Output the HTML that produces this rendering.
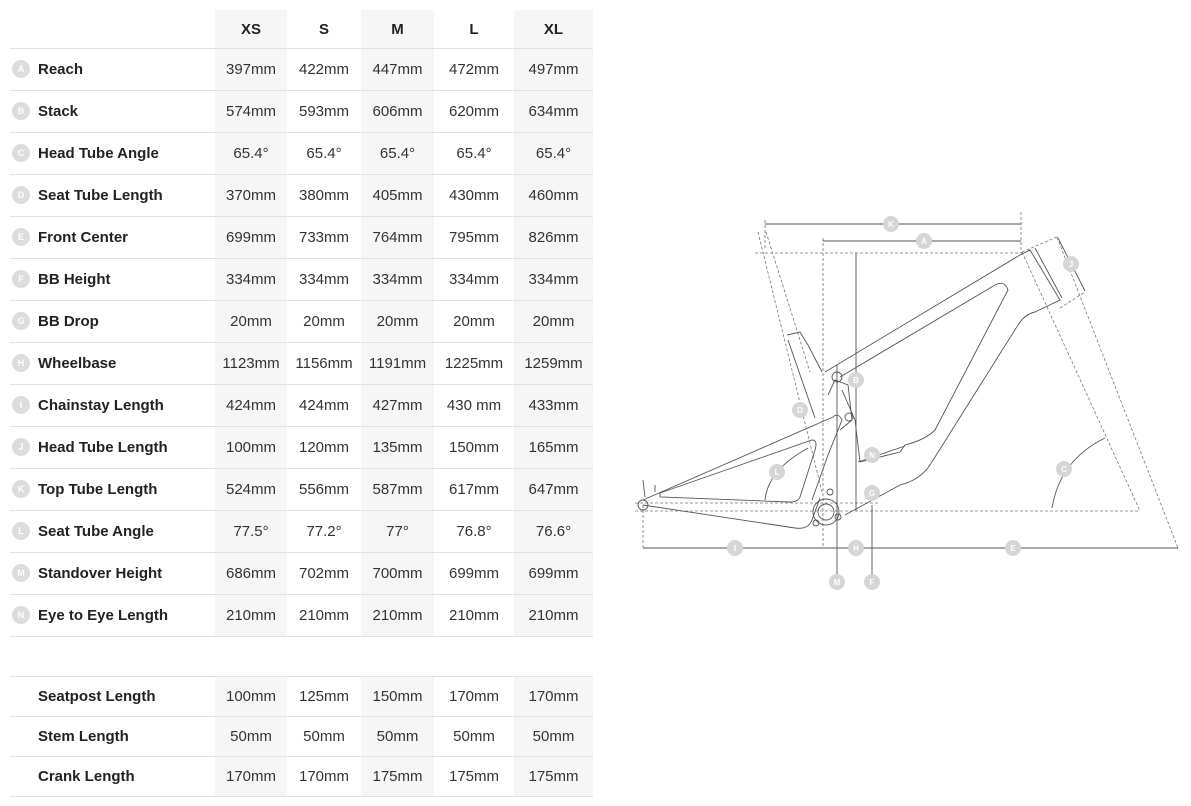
<!DOCTYPE html>
<html><head><meta charset="utf-8"><style>
body{margin:0;width:1191px;height:806px;background:#fff;font-family:"Liberation Sans",sans-serif;position:relative;overflow:hidden}
table{position:absolute;left:10px;border-collapse:collapse;table-layout:fixed;font-size:15px;color:#333}
td,th{padding:0;text-align:center;border-bottom:1px solid #e2e2e2;height:41px}
th{font-weight:bold;color:#222;height:38px}
td.l{text-align:left;font-weight:bold;color:#222;padding-left:28px;position:relative}
.g{background:#f6f6f6}
.b{position:absolute;left:2px;top:11px;width:18px;height:18px;border-radius:50%;background:#ddd;color:#fff;font-size:9px;line-height:18px;text-align:center;font-weight:bold}
table.t2 td{height:39px}
</style></head><body>
<table style="top:10px;width:583px">
<colgroup><col style="width:205px"><col style="width:72px"><col style="width:74px"><col style="width:73px"><col style="width:80px"><col style="width:79px"></colgroup>
<tr><th style="border-bottom:1px solid #e2e2e2"></th><th class="g">XS</th><th>S</th><th class="g">M</th><th>L</th><th class="g">XL</th></tr>
<tr><td class="l"><span class="b">A</span>Reach</td><td class="g">397mm</td><td>422mm</td><td class="g">447mm</td><td>472mm</td><td class="g">497mm</td></tr>
<tr><td class="l"><span class="b">B</span>Stack</td><td class="g">574mm</td><td>593mm</td><td class="g">606mm</td><td>620mm</td><td class="g">634mm</td></tr>
<tr><td class="l"><span class="b">C</span>Head Tube Angle</td><td class="g">65.4°</td><td>65.4°</td><td class="g">65.4°</td><td>65.4°</td><td class="g">65.4°</td></tr>
<tr><td class="l"><span class="b">D</span>Seat Tube Length</td><td class="g">370mm</td><td>380mm</td><td class="g">405mm</td><td>430mm</td><td class="g">460mm</td></tr>
<tr><td class="l"><span class="b">E</span>Front Center</td><td class="g">699mm</td><td>733mm</td><td class="g">764mm</td><td>795mm</td><td class="g">826mm</td></tr>
<tr><td class="l"><span class="b">F</span>BB Height</td><td class="g">334mm</td><td>334mm</td><td class="g">334mm</td><td>334mm</td><td class="g">334mm</td></tr>
<tr><td class="l"><span class="b">G</span>BB Drop</td><td class="g">20mm</td><td>20mm</td><td class="g">20mm</td><td>20mm</td><td class="g">20mm</td></tr>
<tr><td class="l"><span class="b">H</span>Wheelbase</td><td class="g">1123mm</td><td>1156mm</td><td class="g">1191mm</td><td>1225mm</td><td class="g">1259mm</td></tr>
<tr><td class="l"><span class="b">I</span>Chainstay Length</td><td class="g">424mm</td><td>424mm</td><td class="g">427mm</td><td>430 mm</td><td class="g">433mm</td></tr>
<tr><td class="l"><span class="b">J</span>Head Tube Length</td><td class="g">100mm</td><td>120mm</td><td class="g">135mm</td><td>150mm</td><td class="g">165mm</td></tr>
<tr><td class="l"><span class="b">K</span>Top Tube Length</td><td class="g">524mm</td><td>556mm</td><td class="g">587mm</td><td>617mm</td><td class="g">647mm</td></tr>
<tr><td class="l"><span class="b">L</span>Seat Tube Angle</td><td class="g">77.5°</td><td>77.2°</td><td class="g">77°</td><td>76.8°</td><td class="g">76.6°</td></tr>
<tr><td class="l"><span class="b">M</span>Standover Height</td><td class="g">686mm</td><td>702mm</td><td class="g">700mm</td><td>699mm</td><td class="g">699mm</td></tr>
<tr><td class="l"><span class="b">N</span>Eye to Eye Length</td><td class="g">210mm</td><td>210mm</td><td class="g">210mm</td><td>210mm</td><td class="g">210mm</td></tr>
</table>
<table class="t2" style="top:676px;width:583px;border-top:1px solid #e2e2e2">
<colgroup><col style="width:205px"><col style="width:72px"><col style="width:74px"><col style="width:73px"><col style="width:80px"><col style="width:79px"></colgroup>
<tr><td class="l">Seatpost Length</td><td class="g">100mm</td><td>125mm</td><td class="g">150mm</td><td>170mm</td><td class="g">170mm</td></tr>
<tr><td class="l">Stem Length</td><td class="g">50mm</td><td>50mm</td><td class="g">50mm</td><td>50mm</td><td class="g">50mm</td></tr>
<tr><td class="l">Crank Length</td><td class="g">170mm</td><td>170mm</td><td class="g">175mm</td><td>175mm</td><td class="g">175mm</td></tr>
</table>
<svg width="1191" height="806" style="position:absolute;left:0;top:0" font-family="Liberation Sans" font-size="8" font-weight="bold">
<g fill="none" stroke="#777" stroke-width="0.8" stroke-dasharray="3,2">
<line x1="755" y1="253" x2="1025" y2="253"/>
<line x1="765" y1="220" x2="765" y2="250"/>
<line x1="1021" y1="212" x2="1021" y2="253"/>
<line x1="823" y1="238" x2="823" y2="548"/>
<line x1="758" y1="232" x2="822" y2="492"/>
<line x1="766" y1="232" x2="810" y2="372"/>
<line x1="635" y1="503" x2="880" y2="503"/>
<line x1="635" y1="511" x2="1140" y2="511"/>
<line x1="1022" y1="252" x2="1140" y2="511"/>
<line x1="1057" y1="237" x2="1178" y2="548"/>
<line x1="1022" y1="252" x2="1057" y2="237"/>
<line x1="1060" y1="308" x2="1085" y2="292"/>
<line x1="643" y1="505" x2="643" y2="548"/>
</g>
<g fill="none" stroke="#555" stroke-width="0.9">
<line x1="765" y1="224" x2="1021" y2="224"/>
<line x1="823" y1="241" x2="1021" y2="241"/>
<line x1="856" y1="253" x2="856" y2="511"/>
<line x1="837" y1="365" x2="837" y2="582"/>
<line x1="872" y1="505" x2="872" y2="582"/>
<line x1="643" y1="548" x2="1178" y2="548"/>
<line x1="1058" y1="238" x2="1085" y2="291"/>
<path d="M1052 508 Q1060 460 1105 438"/>
<path d="M765 500 Q768 470 808 448"/>
<line x1="858" y1="462" x2="905" y2="446"/>
<path d="M643 505 L795 528 Q808 530 812 520 L820 498"/>
<path d="M643 500 L833 417 Q838 412 842 420 L828 455 L812 500"/>
<path d="M660 493 L812 440 Q818 440 815 450 L800 497 Q798 502 790 502 L660 497 Z"/>
<path d="M825 372 L1020 255 L1030 250 L1060 300 L1035 312 Q1025 314 1018 325 L930 465 Q920 480 900 485 L845 515"/>
<path d="M840 377 L995 285 Q1005 280 1008 290 L935 430 Q925 440 905 445 L900 452 L860 462 L855 420 L842 390"/>
<path d="M787 335 L800 332 L808 345 L822 372"/>
<path d="M788 340 L815 418"/>
<path d="M828 395 L835 380 L848 385 L852 420 L840 430"/>
<line x1="1035" y1="248" x2="1062" y2="298"/>
<circle cx="643" cy="505" r="5"/>
<circle cx="837" cy="377" r="5"/>
<circle cx="849" cy="417" r="4"/>
<circle cx="826" cy="512" r="13"/>
<circle cx="826" cy="512" r="8"/>
<circle cx="816" cy="523" r="3"/>
<circle cx="838" cy="517" r="3"/>
<circle cx="830" cy="492" r="3"/>
<path d="M645 497 L643 480 M655 492 L655 485"/>
</g>
<g fill="#d6d6d6">
<circle cx="891" cy="224" r="8"/><circle cx="924" cy="241" r="8"/><circle cx="856" cy="380" r="8"/>
<circle cx="800" cy="410" r="8"/><circle cx="777" cy="472" r="8"/><circle cx="872" cy="455" r="8"/>
<circle cx="872" cy="493" r="8"/><circle cx="735" cy="548" r="8"/><circle cx="856" cy="548" r="8"/>
<circle cx="837" cy="582" r="8"/><circle cx="872" cy="582" r="8"/><circle cx="1013" cy="548" r="8"/>
<circle cx="1064" cy="469" r="8"/><circle cx="1071" cy="264" r="8"/>
</g>
<g fill="#fff" text-anchor="middle">
<text x="891" y="227">K</text><text x="924" y="244">A</text><text x="856" y="383">B</text>
<text x="800" y="413">D</text><text x="777" y="475">L</text><text x="872" y="458">N</text>
<text x="872" y="496">G</text><text x="735" y="551">I</text><text x="856" y="551">H</text>
<text x="837" y="585">M</text><text x="872" y="585">F</text><text x="1013" y="551">E</text>
<text x="1064" y="472">C</text><text x="1071" y="267">J</text>
</g>
</svg>
</body></html>
